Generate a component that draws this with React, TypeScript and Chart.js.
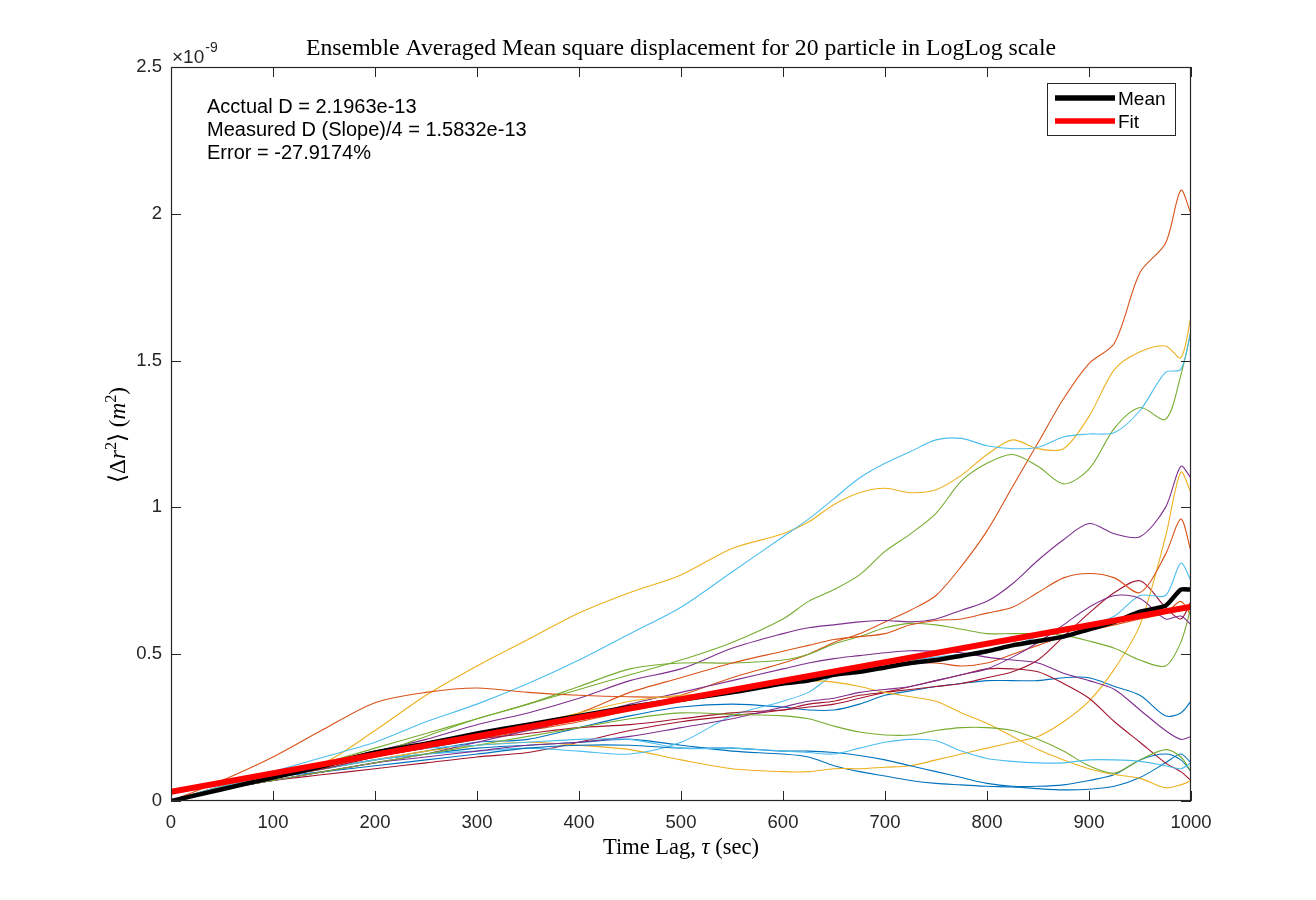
import { useEffect, useRef } from "react"
import { Chart, registerables } from "chart.js"

Chart.register(...registerables)

// time lag grid (sec), shared by every particle curve and the mean
const lagSec = [
  0, 50, 100, 150, 200, 250, 300, 350, 400, 450, 500, 550, 600, 625, 650,
  675, 700, 725, 750, 775, 800, 825, 850, 875, 900, 925, 950, 975, 990, 1000,
]

// MSD per particle, in units of 1e-9 m^2
const msd01 = [0, 0.04, 0.08, 0.11, 0.14, 0.17, 0.2, 0.21, 0.25, 0.29, 0.32, 0.33, 0.32, 0.31, 0.31, 0.33, 0.36, 0.375, 0.39, 0.4, 0.41, 0.41, 0.41, 0.42, 0.42, 0.39, 0.36, 0.29, 0.3, 0.34]
const msd02 = [0, 0.05, 0.08, 0.11, 0.15, 0.18, 0.21, 0.24, 0.27, 0.31, 0.36, 0.42, 0.47, 0.5, 0.54, 0.57, 0.61, 0.65, 0.7, 0.8, 0.92, 1.07, 1.22, 1.37, 1.49, 1.56, 1.8, 1.9, 2.08, 2.0]
const msd03 = [0, 0.05, 0.09, 0.13, 0.24, 0.36, 0.46, 0.55, 0.64, 0.71, 0.77, 0.86, 0.91, 0.95, 1.01, 1.05, 1.065, 1.05, 1.06, 1.11, 1.18, 1.23, 1.2, 1.2, 1.31, 1.47, 1.53, 1.55, 1.51, 1.65]
const msd04 = [0, 0.05, 0.09, 0.13, 0.17, 0.21, 0.26, 0.3, 0.35, 0.41, 0.45, 0.52, 0.57, 0.59, 0.6, 0.61, 0.615, 0.61, 0.62, 0.65, 0.68, 0.74, 0.82, 0.89, 0.945, 0.91, 0.9, 1.0, 1.14, 1.1]
const msd05 = [0, 0.05, 0.09, 0.13, 0.18, 0.23, 0.28, 0.33, 0.38, 0.43, 0.48, 0.54, 0.62, 0.68, 0.72, 0.77, 0.85, 0.91, 0.98, 1.09, 1.15, 1.18, 1.14, 1.08, 1.13, 1.27, 1.34, 1.3, 1.45, 1.6]
const msd06 = [0, 0.05, 0.1, 0.15, 0.2, 0.27, 0.33, 0.4, 0.48, 0.57, 0.66, 0.78, 0.9, 0.96, 1.03, 1.1, 1.15, 1.19, 1.23, 1.235, 1.21, 1.2, 1.205, 1.24, 1.25, 1.255, 1.33, 1.46, 1.47, 1.6]
const msd07 = [0, 0.04, 0.07, 0.09, 0.11, 0.13, 0.15, 0.165, 0.2, 0.24, 0.27, 0.29, 0.31, 0.33, 0.34, 0.36, 0.37, 0.38, 0.39, 0.4, 0.42, 0.44, 0.48, 0.56, 0.64, 0.71, 0.75, 0.66, 0.62, 0.68]
const msd08 = [0, 0.04, 0.08, 0.11, 0.14, 0.16, 0.18, 0.19, 0.2, 0.21, 0.19, 0.17, 0.16, 0.15, 0.12, 0.1, 0.085, 0.07, 0.06, 0.055, 0.05, 0.048, 0.042, 0.038, 0.04, 0.05, 0.08, 0.13, 0.16, 0.13]
const msd09 = [0, 0.07, 0.15, 0.245, 0.335, 0.37, 0.385, 0.37, 0.36, 0.355, 0.355, 0.37, 0.4, 0.42, 0.44, 0.45, 0.46, 0.47, 0.47, 0.46, 0.47, 0.5, 0.53, 0.56, 0.58, 0.6, 0.62, 0.64, 0.68, 0.63]
const msd10 = [0, 0.04, 0.08, 0.11, 0.14, 0.17, 0.19, 0.2, 0.19, 0.175, 0.14, 0.11, 0.1, 0.1, 0.11, 0.11, 0.115, 0.12, 0.14, 0.16, 0.18, 0.2, 0.22, 0.27, 0.34, 0.45, 0.6, 0.9, 1.12, 1.05]
const msd11 = [0, 0.04, 0.07, 0.1, 0.13, 0.16, 0.2, 0.24, 0.28, 0.33, 0.37, 0.41, 0.45, 0.47, 0.485, 0.495, 0.505, 0.512, 0.51, 0.505, 0.49, 0.48, 0.47, 0.435, 0.41, 0.38, 0.31, 0.24, 0.21, 0.22]
const msd12 = [0, 0.04, 0.08, 0.12, 0.16, 0.22, 0.28, 0.33, 0.39, 0.45, 0.47, 0.47, 0.48, 0.5, 0.535, 0.56, 0.59, 0.605, 0.6, 0.585, 0.57, 0.57, 0.57, 0.565, 0.545, 0.52, 0.48, 0.46, 0.54, 0.66]
const msd13 = [0, 0.05, 0.08, 0.11, 0.14, 0.16, 0.17, 0.18, 0.17, 0.16, 0.2, 0.29, 0.34, 0.37, 0.43, 0.455, 0.47, 0.48, 0.49, 0.5, 0.51, 0.53, 0.56, 0.59, 0.6, 0.63, 0.7, 0.7, 0.81, 0.75]
const msd14 = [0, 0.04, 0.08, 0.11, 0.15, 0.18, 0.21, 0.23, 0.25, 0.26, 0.28, 0.3, 0.31, 0.32, 0.33, 0.35, 0.37, 0.39, 0.41, 0.43, 0.45, 0.45, 0.44, 0.4, 0.35, 0.27, 0.2, 0.13, 0.1, 0.07]
const msd15 = [0, 0.04, 0.08, 0.1, 0.12, 0.14, 0.16, 0.18, 0.19, 0.19, 0.18, 0.18, 0.17, 0.17, 0.165, 0.155, 0.14, 0.12, 0.1, 0.08, 0.06, 0.05, 0.05, 0.055, 0.07, 0.09, 0.14, 0.16, 0.14, 0.1]
const msd16 = [0, 0.05, 0.08, 0.12, 0.16, 0.19, 0.22, 0.26, 0.3, 0.37, 0.42, 0.47, 0.51, 0.53, 0.55, 0.56, 0.57, 0.6, 0.615, 0.62, 0.64, 0.66, 0.71, 0.76, 0.775, 0.76, 0.71, 0.84, 0.96, 0.85]
const msd17 = [0, 0.05, 0.09, 0.12, 0.16, 0.2, 0.23, 0.26, 0.3, 0.34, 0.36, 0.37, 0.41, 0.41, 0.405, 0.39, 0.37, 0.355, 0.34, 0.3, 0.265, 0.22, 0.175, 0.14, 0.11, 0.09, 0.077, 0.045, 0.055, 0.07]
const msd18 = [0, 0.04, 0.07, 0.1, 0.13, 0.15, 0.17, 0.19, 0.2, 0.22, 0.25, 0.28, 0.32, 0.34, 0.35, 0.37, 0.38, 0.39, 0.41, 0.43, 0.45, 0.49, 0.54, 0.6, 0.66, 0.7, 0.69, 0.62, 0.63, 0.6]
const msd19 = [0, 0.04, 0.07, 0.1, 0.13, 0.16, 0.19, 0.22, 0.25, 0.28, 0.3, 0.295, 0.29, 0.28, 0.255, 0.235, 0.225, 0.225, 0.24, 0.25, 0.25, 0.24, 0.21, 0.17, 0.12, 0.095, 0.14, 0.175, 0.15, 0.1]
const msd20 = [0, 0.05, 0.08, 0.12, 0.16, 0.18, 0.19, 0.2, 0.21, 0.21, 0.18, 0.18, 0.17, 0.165, 0.16, 0.18, 0.2, 0.21, 0.205, 0.17, 0.145, 0.135, 0.13, 0.13, 0.14, 0.14, 0.135, 0.12, 0.11, 0.13]

// ensemble mean and linear fit
const meanMsd = [0, 0.04, 0.08, 0.12, 0.165, 0.195, 0.23, 0.26, 0.29, 0.32, 0.345, 0.37, 0.4, 0.41, 0.43, 0.44, 0.455, 0.47, 0.48, 0.495, 0.51, 0.53, 0.545, 0.56, 0.585, 0.61, 0.645, 0.665, 0.72, 0.72]
const fitLag = [0, 1000]
const fitMsd = [0.031, 0.662]

const timeTicks = [0, 100, 200, 300, 400, 500, 600, 700, 800, 900, 1000]
const msdTicks = [0, 0.5, 1, 1.5, 2, 2.5]

const annotationLines = [
  "Acctual D = 2.1963e-13",
  "Measured D (Slope)/4 = 1.5832e-13",
  "Error = -27.9174%",
]

const particles = [
  msd01, msd02, msd03, msd04, msd05, msd06, msd07, msd08, msd09, msd10,
  msd11, msd12, msd13, msd14, msd15, msd16, msd17, msd18, msd19, msd20,
]

// MATLAB default line colour order
const matlabColors = ["#0072BD", "#D95319", "#EDB120", "#7E2F8E", "#77AC30", "#4DBEEE", "#A2142F"]

const SANS = "'Liberation Sans', Arial, Helvetica, sans-serif"
const SERIF = "'Liberation Serif', 'DejaVu Serif', serif"
const INK = "#262626"

type Seg = { t: string; italic?: boolean; sup?: boolean }

// draws mixed italic/superscript text centred on x, scaled to a target width
function drawRich(ctx: CanvasRenderingContext2D, segs: Seg[], x: number, y: number, targetWidth: number) {
  const measure = (size: number) => {
    const fontOf = (s: Seg) =>
      `${s.italic ? "italic " : ""}${s.sup ? (size * 0.7).toFixed(2) : size.toFixed(2)}px ${SERIF}`
    let total = 0
    const widths = segs.map((s) => {
      ctx.font = fontOf(s)
      const w = ctx.measureText(s.t).width
      total += w
      return w
    })
    return { fontOf, widths, total }
  }
  const first = measure(20)
  const size = (20 * targetWidth) / first.total
  const { fontOf, widths, total } = measure(size)
  let cx = x - total / 2
  ctx.textAlign = "left"
  segs.forEach((s, i) => {
    ctx.font = fontOf(s)
    ctx.fillText(s.t, cx, s.sup ? y - size * 0.38 : y)
    cx += widths[i]
  })
}

// box, inward ticks, title, labels, legend and text box in MATLAB style
const matlabFrame = {
  id: "matlabFrame",
  afterDatasetsDraw(chart: Chart) {
    const { ctx, chartArea: a } = chart
    const xs = chart.scales.x
    const ys = chart.scales.y
    ctx.save()

    ctx.strokeStyle = INK
    ctx.lineWidth = 1
    ctx.beginPath()
    for (const v of timeTicks) {
      const px = Math.round(xs.getPixelForValue(v)) + 0.5
      ctx.moveTo(px, a.bottom)
      ctx.lineTo(px, a.bottom - 10)
      ctx.moveTo(px, a.top)
      ctx.lineTo(px, a.top + 10)
    }
    for (const v of msdTicks) {
      const py = Math.round(ys.getPixelForValue(v)) + 0.5
      ctx.moveTo(a.left, py)
      ctx.lineTo(a.left + 10, py)
      ctx.moveTo(a.right, py)
      ctx.lineTo(a.right - 10, py)
    }
    ctx.stroke()
    ctx.lineWidth = 1.2
    ctx.strokeRect(a.left + 0.5, a.top + 0.5, a.right - a.left - 1, a.bottom - a.top - 1)

    ctx.fillStyle = "#000"
    ctx.textBaseline = "alphabetic"

    // title
    const title = "Ensemble Averaged Mean square displacement for 20 particle in LogLog scale"
    ctx.font = `20px ${SERIF}`
    const tw = ctx.measureText(title).width
    const ts = (20 * 750) / tw
    ctx.font = `${ts.toFixed(2)}px ${SERIF}`
    ctx.textAlign = "center"
    ctx.fillText(title, (a.left + a.right) / 2, 55)

    // exponent
    ctx.fillStyle = INK
    ctx.textAlign = "left"
    ctx.font = `19px ${SANS}`
    ctx.fillText("\u00D710", a.left + 1, 63)
    const ew = ctx.measureText("\u00D710").width
    ctx.font = `14px ${SANS}`
    ctx.fillText("-9", a.left + 2 + ew, 52)

    // x label
    ctx.fillStyle = "#000"
    drawRich(ctx, [{ t: "Time Lag, " }, { t: "\u03C4", italic: true }, { t: " (sec)" }], (a.left + a.right) / 2, 854, 156)

    // y label
    ctx.save()
    ctx.translate(125, 435)
    ctx.rotate(-Math.PI / 2)
    drawRich(
      ctx,
      [
        { t: "\u27E8\u0394" },
        { t: "r", italic: true },
        { t: "2", sup: true },
        { t: "\u27E9 (" },
        { t: "m", italic: true },
        { t: "2", sup: true },
        { t: ")" },
      ],
      0,
      0,
      96,
    )
    ctx.restore()

    // text box
    ctx.font = `20px ${SANS}`
    ctx.textAlign = "left"
    annotationLines.forEach((line, i) => {
      ctx.fillText(line, 207, 113 + i * 23)
    })

    // legend
    const lx = 1047
    const ly = 83
    ctx.fillStyle = "#fff"
    ctx.fillRect(lx, ly, 129, 53)
    ctx.strokeStyle = INK
    ctx.lineWidth = 1
    ctx.strokeRect(lx + 0.5, ly + 0.5, 128, 52)
    ctx.lineWidth = 5.5
    ctx.strokeStyle = "#000"
    ctx.beginPath()
    ctx.moveTo(1055, 98)
    ctx.lineTo(1115, 98)
    ctx.stroke()
    ctx.strokeStyle = "#FF0000"
    ctx.beginPath()
    ctx.moveTo(1055, 121)
    ctx.lineTo(1115, 121)
    ctx.stroke()
    ctx.fillStyle = "#000"
    ctx.font = `19px ${SANS}`
    ctx.fillText("Mean", 1118, 105)
    ctx.fillText("Fit", 1118, 128)

    ctx.restore()
  },
}

export default function App() {
  const canvasRef = useRef<HTMLCanvasElement | null>(null)
  const chartRef = useRef<Chart | null>(null)

  useEffect(() => {
    if (!canvasRef.current) return
    if (chartRef.current) chartRef.current.destroy()
    const ctx = canvasRef.current.getContext("2d")
    if (!ctx) return

    const datasets: any[] = [
      {
        label: "Fit",
        data: fitLag.map((x, i) => ({ x, y: fitMsd[i] })),
        borderColor: "#FF0000",
        borderWidth: 6,
        tension: 0,
        order: 0,
      },
      {
        label: "Mean",
        data: lagSec.map((x, i) => ({ x, y: meanMsd[i] })),
        borderColor: "#000000",
        borderWidth: 4.5,
        tension: 0.2,
        order: 1,
      },
      ...particles.map((series, i) => ({
        label: `Particle ${i + 1}`,
        data: lagSec.map((x, j) => ({ x, y: series[j] })),
        borderColor: matlabColors[i % matlabColors.length],
        borderWidth: 1.1,
        tension: 0.3,
        order: 40 - i,
      })),
    ]

    chartRef.current = new Chart(ctx, {
      type: "line",
      data: { datasets },
      options: {
        animation: false,
        responsive: true,
        maintainAspectRatio: false,
        layout: { padding: { left: 0, right: 125, top: 67, bottom: 0 } },
        elements: { point: { radius: 0 }, line: { fill: false } },
        plugins: {
          legend: { display: false },
          tooltip: { enabled: false },
        },
        scales: {
          x: {
            type: "linear",
            min: 0,
            max: 1000,
            grid: { display: false, drawTicks: false },
            border: { display: false },
            ticks: {
              color: INK,
              font: { family: SANS, size: 18.5 },
              padding: 11,
              maxRotation: 0,
              autoSkip: false,
              callback: (v) => String(v),
            },
            afterBuildTicks: (scale) => {
              scale.ticks = timeTicks.map((value) => ({ value }))
            },
            afterFit: (scale) => {
              scale.height = 99
            },
          },
          y: {
            type: "linear",
            min: 0,
            max: 2.5,
            grid: { display: false, drawTicks: false },
            border: { display: false },
            ticks: {
              color: INK,
              font: { family: SANS, size: 18.5 },
              padding: 9,
              autoSkip: false,
              callback: (v) => String(v),
            },
            afterBuildTicks: (scale) => {
              scale.ticks = msdTicks.map((value) => ({ value }))
            },
            afterFit: (scale) => {
              scale.width = 171
            },
          },
        },
      },
      plugins: [matlabFrame],
    })

    return () => {
      if (chartRef.current) {
        chartRef.current.destroy()
        chartRef.current = null
      }
    }
  }, [])

  return (
    <div style={{ position: "absolute", left: 0, top: 0, width: 1316, height: 900, background: "#fff" }}>
      <canvas ref={canvasRef} />
    </div>
  )
}
